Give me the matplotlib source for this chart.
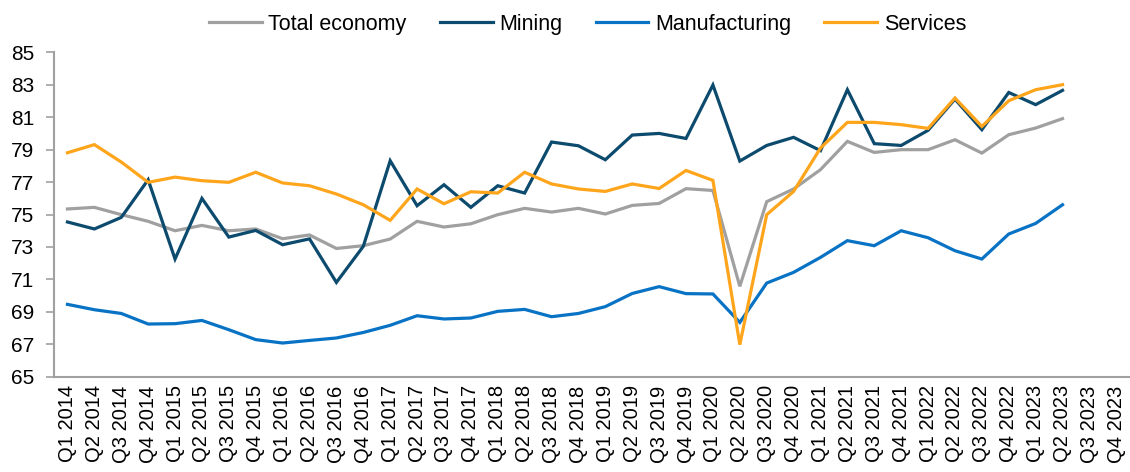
import matplotlib

matplotlib.use("Agg")

import matplotlib.pyplot as plt

plt.rcParams["font.family"] = ["Liberation Sans", "DejaVu Sans"]

QUARTERS = [f"Q{q} {y}" for y in range(2014, 2024) for q in range(1, 5)]

total_economy = [
    75.34, 75.44, 74.99, 74.58, 74.00, 74.33, 74.00, 74.11, 73.51, 73.74,
    72.91, 73.08, 73.49, 74.58, 74.23, 74.43, 74.99, 75.38, 75.15, 75.38,
    75.03, 75.56, 75.68, 76.59, 76.48, 70.58, 75.79, 76.57, 77.76, 79.50,
    78.82, 78.99, 78.99, 79.60, 78.78, 79.91, 80.32, 80.90,
]
mining = [
    74.54, 74.11, 74.82, 77.14, 72.26, 75.99, 73.61, 74.02, 73.14, 73.50,
    70.82, 73.04, 78.31, 75.54, 76.83, 75.44, 76.77, 76.32, 79.46, 79.23,
    78.37, 79.89, 79.99, 79.68, 82.97, 78.29, 79.25, 79.75, 78.93, 82.68,
    79.36, 79.25, 80.18, 82.10, 80.22, 82.51, 81.76, 82.64,
]
manufacturing = [
    69.47, 69.14, 68.91, 68.26, 68.28, 68.48, 67.91, 67.30, 67.09, 67.25,
    67.40, 67.74, 68.18, 68.77, 68.57, 68.63, 69.04, 69.16, 68.71, 68.91,
    69.33, 70.14, 70.56, 70.13, 70.11, 68.36, 70.78, 71.44, 72.36, 73.39,
    73.08, 74.00, 73.57, 72.77, 72.26, 73.80, 74.45, 75.60,
]
services = [
    78.80, 79.30, 78.23, 76.98, 77.30, 77.08, 76.98, 77.60, 76.94, 76.77,
    76.26, 75.60, 74.64, 76.57, 75.66, 76.40, 76.32, 77.60, 76.88, 76.57,
    76.42, 76.88, 76.60, 77.71, 77.10, 66.99, 74.99, 76.42, 79.09, 80.67,
    80.67, 80.53, 80.30, 82.17, 80.42, 82.00, 82.68, 82.99,
]

SERIES = [
    ("Total economy", total_economy, "#a0a0a0"),
    ("Mining", mining, "#0c4a6e"),
    ("Manufacturing", manufacturing, "#0872c4"),
    ("Services", services, "#ffa51c"),
]


fig = plt.figure(figsize=(11.3, 4.72), dpi=100)
ax = fig.add_axes([0.0478, 0.2013, 0.952, 0.6885])

for label, values, color in SERIES:
    ax.plot(range(len(values)), values, color=color, linewidth=2.3,
            label=label, solid_joinstyle="miter")

ax.set_xlim(-0.5, len(QUARTERS) - 0.5)
ax.set_ylim(65, 85)
ax.set_yticks(range(65, 86, 2))
ax.set_xticks(range(len(QUARTERS)))
ax.set_xticklabels(QUARTERS, rotation=90)
ax.tick_params(axis="x", length=0, labelsize=14.5, pad=6)
ax.tick_params(axis="y", length=6, width=1.2, color="#a0a0a0",
               labelsize=15, pad=8)

for side in ("top", "right"):
    ax.spines[side].set_visible(False)
for side in ("left", "bottom"):
    ax.spines[side].set_color("#a0a0a0")
    ax.spines[side].set_linewidth(1.5)

fig.legend(loc="upper center", bbox_to_anchor=(0.52, 1.012), ncol=4,
           frameon=False, fontsize=15.5, handlelength=2.45,
           columnspacing=1.55, handletextpad=0.3)

fig.savefig("out.png")
